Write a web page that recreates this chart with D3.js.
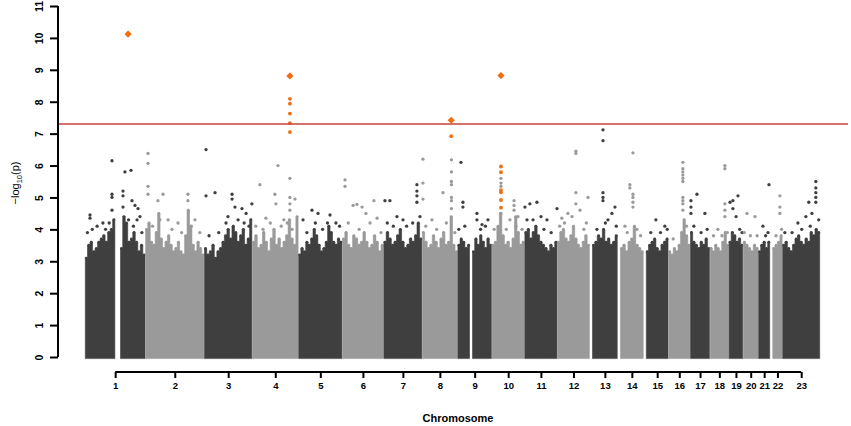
<!DOCTYPE html>
<html><head><meta charset="utf-8">
<script src="https://cdn.jsdelivr.net/npm/d3@7"></script>
<style>html,body{margin:0;padding:0;background:#fff;} svg{display:block;font-family:"Liberation Sans",Arial,sans-serif;}</style>
</head><body>
<svg id="chart" width="851" height="426"></svg>
<script>
// ---- data ----
const chrNames = ['1','2','3','4','5','6','7','8','9','10','11','12','13','14','15','16','17','18','19','20','21','22','23'];
const chrLengths = [249.25,243.2,198.0,191.15,180.9,171.1,159.1,146.4,141.2,135.5,135.0,133.9,115.2,107.3,102.5,90.4,81.2,78.1,59.1,63.0,48.1,51.3,155.3];
// upper envelope of the dense cloud, sampled evenly along each chromosome (0 = no SNPs)
const profiles = [
  [3.1,3.5,3.6,3.3,3.4,3.6,3.7,3.8,3.6,3.9,4.0,4.3,0,0,3.4,4.4,4.2,3.6,3.7,3.9,3.6,3.3,3.5,3.2],
  [4.0,4.2,3.6,3.5,3.9,4.5,3.7,3.4,3.6,3.8,3.5,3.3,3.4,3.6,3.3,3.2,3.8,4.6,4.1,3.5,3.3,3.6,3.4,3.2],
  [3.4,3.2,3.3,3.5,3.1,3.3,3.4,3.6,3.8,4.0,3.7,4.1,3.9,3.6,3.8,4.0,3.5,3.7,4.3],
  [3.6,3.8,3.4,3.5,3.9,3.6,3.3,3.7,4.0,3.5,3.7,3.4,3.6,3.8,4.3,3.7,3.5,4.4],
  [3.2,3.4,3.3,3.6,3.5,3.7,4.0,3.8,3.5,3.3,3.4,3.6,4.1,3.9,3.6,3.5,3.7,3.6],
  [3.7,3.9,3.5,3.4,3.8,3.7,3.5,3.6,3.9,3.6,3.4,3.5,3.8,3.6,3.3,3.5],
  [3.6,3.9,3.7,3.5,3.6,3.8,4.0,3.6,3.4,3.5,3.7,3.6,3.8,4.2,3.7],
  [3.9,3.6,3.4,3.5,3.8,3.6,3.4,3.7,3.9,3.5,3.6,4.4,3.5,3.3],
  [3.5,3.7,3.6,3.4,3.5,0,3.3,3.7,3.5,3.8,3.6,3.4,3.7,3.5],
  [3.5,3.6,4.1,4.5,3.8,3.5,3.6,3.4,3.7,4.4,3.9,3.5,3.6],
  [3.9,4.0,3.7,3.9,4.1,3.8,3.6,3.5,3.4,3.3,3.5,3.4,3.6],
  [3.6,3.9,4.0,3.7,3.6,3.8,4.1,3.7,3.5,3.4,3.6,3.8,3.5],
  [0,3.5,3.6,3.8,3.7,4.0,3.6,3.7,3.5,3.6,3.8],
  [0,3.4,3.5,3.3,3.6,3.7,4.1,3.5,3.4,3.3],
  [0,3.3,3.5,3.6,3.7,3.4,3.3,3.5,3.6,3.7],
  [3.3,3.2,3.4,3.3,3.5,3.9,4.3,3.8,3.5],
  [3.9,3.6,3.5,3.4,3.6,3.5,3.7,3.4],
  [3.4,3.3,3.5,3.4,3.3,3.6,3.9,3.5],
  [3.6,3.9,3.8,3.6,3.7,3.5],
  [3.6,3.5,3.4,3.3,3.5,3.4],
  [3.3,3.5,3.6,3.4,3.6],
  [0,3.4,3.5,3.6,3.8],
  [3.5,3.6,3.4,3.3,3.5,3.7,3.8,3.6,3.5,3.7,3.6,3.9,3.8,4.0,3.9]
];
// loose SNPs at the ragged top of the cloud: [chromosome, position (Mb), -log10(p)]
const fringePoints = [
  [1,10,3.9],[1,30,4.0],[1,50,4.1],[1,85,4.0],[1,100,4.2],[1,180,4.3],[1,200,4.1],[1,235,3.9],
  [2,30,4.1],[2,60,4.3],[2,110,4.0],[2,150,3.9],[2,190,4.1],[2,225,3.9],
  [3,20,3.8],[3,60,3.9],[3,90,4.2],[3,140,4.3],[3,165,4.2],[3,185,4.1],
  [4,15,4.1],[4,45,4.0],[4,75,4.2],[4,120,4.1],[4,145,4.2],[4,165,4.0],
  [5,35,3.9],[5,70,4.2],[5,100,4.0],[5,120,4.2],[5,170,4.1],
  [6,25,4.2],[6,70,4.0],[6,115,4.2],[6,160,3.9],
  [7,15,4.2],[7,40,4.1],[7,95,4.1],[7,120,4.2],
  [8,15,4.1],[8,60,4.0],[8,100,4.2],[8,135,3.9],
  [9,5,4.0],[9,30,4.1],[9,95,4.0],[9,115,4.1],
  [10,10,4.0],[10,60,4.0],[10,100,4.1],[10,125,4.0],
  [11,10,4.3],[11,35,4.3],[11,80,4.0],[11,110,3.9],
  [12,10,4.1],[12,30,4.2],[12,110,4.0],[12,120,4.2],
  [13,30,4.0],[13,65,4.2],[13,110,4.1],
  [14,40,3.9],[14,80,4.0],[14,95,3.8],
  [15,30,3.9],[15,70,3.9],[15,98,4.0],
  [16,20,3.7],[16,75,4.1],
  [17,15,4.1],[17,45,3.9],[17,70,4.0],
  [18,15,3.8],[18,50,3.8],[18,72,3.9],
  [19,45,4.0],[19,55,3.9],
  [20,5,3.9],[20,30,3.8],[20,58,3.8],
  [21,30,3.8],[21,40,3.9],
  [22,25,3.8],[22,48,4.0],
  [23,10,3.9],[23,40,3.9],[23,80,4.0],[23,115,4.1],[23,150,4.3]
];
// individual SNPs above the cloud: [chromosome, position (Mb), -log10(p)]
const topPoints = [
  [1,20.7,4.45],[1,20.7,4.35],[1,74,4.2],[1,111.5,6.15],[1,111.5,5.1],[1,111.5,5.0],[1,111.5,4.6],
  [1,157,5.2],[1,157,5.05],[1,157,4.7],[1,165,5.8],[1,190,5.85],[1,194,4.9],[1,206.5,4.75],[1,219,4.65],[1,227,4.4],[1,215,4.3],
  [2,11,6.38],[2,11,6.07],[2,11,5.35],[2,11,5.1],[2,52,4.9],[2,73,5.1],[2,94,4.3],[2,176,5.1],[2,176,4.9],[2,205,4.3],[2,135,4.2],
  [3,7.4,6.5],[3,7.4,5.05],[3,44.6,5.15],[3,115,5.1],[3,115,4.95],[3,127,4.7],[3,156,4.65],[3,197,4.8],[3,173,4.5],[3,98,4.4],
  [4,32,5.4],[4,57,4.35],[4,94,5.1],[4,98,4.8],[4,106.6,6.0],[4,156,5.6],[4,156,5.0],[4,156,4.8],[4,156,4.6],[4,131,4.3],[4,177,4.95],
  [5,19,4.3],[5,56,4.6],[5,81,4.5],[5,130.5,4.45],[5,155,4.2],
  [6,11.6,5.55],[6,11.6,5.35],[6,45,4.75],[6,61,4.78],[6,82,4.7],[6,131,4.9],[6,144,4.35],[6,98,4.5],
  [7,5.4,4.9],[7,26,4.9],[7,55,4.4],[7,80,4.3],[7,137.5,5.4],[7,137.5,5.2],[7,137.5,5.05],[7,137.5,4.85],[7,150,4.4],
  [8,3.3,6.2],[8,3.3,5.45],[8,3.3,4.95],[8,40.5,4.3],[8,86,5.15],[8,121,6.18],[8,121,5.8],[8,121,5.5],[8,121,5.4],[8,121,5.0],[8,121,4.9],[8,121,4.65],
  [9,14,6.1],[9,22,4.85],[9,22,4.7],[9,80,4.5],[9,80,4.3],[9,101,4.15],[9,125.5,4.3],
  [10,38,5.6],[10,38,5.45],[10,38,5.35],[10,38,4.5],[10,92,4.9],[10,92,4.75],[10,92,4.6],[10,75,4.3],[10,108,4.4],
  [11,1.6,4.7],[11,22,4.8],[11,51,4.85],[11,68,4.4],[11,92.5,4.3],[11,134,4.65],
  [12,77,6.45],[12,77,6.38],[12,77,5.15],[12,77,4.8],[12,127,5.0],[12,44,4.5],[12,19,4.35],[12,61,4.4],[12,94,4.6],
  [13,55,7.12],[13,55,6.78],[13,55,5.15],[13,55,5.0],[13,55,4.9],[13,104.5,4.7],[13,75.6,4.3],[13,92,4.5],
  [14,63.6,6.4],[14,63.6,5.1],[14,63.6,5.0],[14,63.6,4.85],[14,63.6,4.7],[14,51,5.4],[14,51,5.3],[14,30.6,4.1],
  [15,51,4.3],[15,88,4.1],
  [16,60,6.1],[16,60,5.9],[16,60,5.8],[16,60,5.7],[16,60,5.6],[16,60,5.5],[16,60,5.0],[16,60,4.9],[16,60,4.8],[16,60,4.6],
  [17,27.7,5.1],[17,3,4.9],[17,3,4.7],[17,3,4.5],[17,60.7,4.5],
  [18,62,6.0],[18,62,5.9],[18,62,4.8],[18,62,4.6],[18,62,4.4],[18,33,4.0],
  [19,5,4.85],[19,17,4.9],[19,17,4.65],[19,38,5.05],[19,30,4.4],
  [20,16,4.5],[20,49,4.4],
  [21,44,5.4],[21,19,4.1],
  [22,41,5.05],[22,41,4.7],[22,41,4.5],
  [23,138,5.5],[23,138,5.3],[23,138,5.15],[23,138,5.0],[23,138,4.85],[23,109,4.85],[23,64,4.2],[23,97,4.4],[23,122,4.5]
];
// highlighted SNPs (orange)
const hitPoints = [
  [4,156,8.09],[4,156,7.94],[4,156,7.63],[4,156,7.33],[4,156,7.05],
  [8,120,6.92],
  [10,38,5.97],[10,38,5.79],[10,38,5.23],[10,38,5.16],[10,38,4.92],[10,38,4.68]
];
// lead SNPs (orange diamonds)
const leadSnps = [[1,178,10.12],[4,156,8.81],[8,120,7.42],[10,38,8.82]];
const yTicks = [0,1,2,3,4,5,6,7,8,9,10,11];
const sigLevel = 7.3;

// ---- drawing ----
const dark = '#3f3f3f', light = '#9a9a9a', orange = '#f06e10';
const svg = d3.select('#chart');
const offsets = [0, ...d3.cumsum(chrLengths)];
const total = offsets[offsets.length-1];
const x = d3.scaleLinear().domain([0,total]).range([85,820]);
const y = d3.scaleLinear().domain([0,11]).range([357,6]);
const col = c => (c % 2 === 1 ? dark : light);
const gx = (c,pos) => x(offsets[c-1] + pos);

const area = d3.area().x(d => d[0]).y0(y(0) + 1.6).y1(d => y(d[1])).curve(d3.curveStepAfter);
const body = svg.append('g');
profiles.forEach((prof, ci) => {
  const c = ci + 1, n = prof.length, step = chrLengths[ci] / n;
  const runs = [];
  let cur = null;
  prof.forEach((h, i) => {
    if (h > 0) { if (!cur) { cur = []; runs.push(cur); } cur.push(i); }
    else cur = null;
  });
  runs.forEach(run => {
    const pts = run.map(i => [gx(c, i*step), prof[i]]);
    const lastI = run[run.length-1];
    pts.push([gx(c, (lastI+1)*step), prof[lastI]]);
    pts[0][0] += 0.3; pts[pts.length-1][0] -= 0.3;
    body.append('path').attr('d', area(pts)).attr('fill', col(c))
      .attr('stroke', col(c)).attr('stroke-width', 0.6).attr('stroke-linejoin', 'round');
    run.forEach(i => {
      body.append('circle').attr('cx', gx(c, (i+0.5)*step)).attr('cy', y(prof[i])).attr('r', 1.45).attr('fill', col(c));
    });
  });
});

svg.append('g').selectAll('circle').data(fringePoints.concat(topPoints)).join('circle')
  .attr('cx', d => gx(d[0], d[1])).attr('cy', d => y(d[2])).attr('r', 1.65)
  .attr('fill', d => col(d[0]));

svg.append('g').selectAll('circle').data(hitPoints).join('circle')
  .attr('cx', d => gx(d[0], d[1])).attr('cy', d => y(d[2])).attr('r', 1.9)
  .attr('fill', orange);

const diamond = d3.symbol().type(d3.symbolSquare).size(26);
svg.append('g').selectAll('path').data(leadSnps).join('path')
  .attr('d', diamond)
  .attr('transform', d => `translate(${gx(d[0], d[1])},${y(d[2])}) rotate(45)`)
  .attr('fill', orange);

// significance line
svg.append('line').attr('x1', 59).attr('x2', 848).attr('y1', y(sigLevel)).attr('y2', y(sigLevel))
  .attr('stroke', '#c8403c').attr('stroke-width', 1.4);

// y axis
const yAxis = svg.append('g').attr('transform', 'translate(58,0)')
  .call(d3.axisLeft(y).tickValues(yTicks).tickSize(8).tickFormat(d3.format('d')));
yAxis.select('.domain').attr('stroke', '#000').attr('stroke-width', 2).attr('d', `M0,${y(11)}V${y(0)}`);
yAxis.selectAll('.tick line').attr('stroke', '#000').attr('stroke-width', 2);
yAxis.selectAll('.tick text')
  .attr('x', 0).attr('y', 0).attr('dy', null)
  .attr('transform', 'translate(-15,0) rotate(-90)')
  .attr('text-anchor', 'middle').attr('fill', '#000')
  .style('font-size', '10.5px').style('font-weight', 'bold')
  .style('font-family', '"Liberation Sans",Arial,sans-serif');

// x axis ticks at the middle of each chromosome's SNP span
const tickPos = profiles.map((prof, ci) => {
  const n = prof.length, step = chrLengths[ci] / n;
  const first = prof.findIndex(v => v > 0);
  let last = n - 1; while (prof[last] === 0) last--;
  return offsets[ci] + (first * step + (last + 1) * step) / 2;
});
const xAxis = svg.append('g').attr('transform', 'translate(0,372)')
  .call(d3.axisBottom(x).tickValues(tickPos).tickSize(6).tickFormat((d, i) => chrNames[i]));
xAxis.select('.domain').attr('stroke', '#000').attr('stroke-width', 2)
  .attr('d', `M${x(tickPos[0])},0H${x(tickPos[tickPos.length-1])}`);
xAxis.selectAll('.tick line').attr('stroke', '#000').attr('stroke-width', 2);
xAxis.selectAll('.tick text').attr('y', 10).attr('dy', '0.71em').attr('fill', '#000')
  .style('font-size', '9.5px').style('font-weight', 'bold')
  .style('font-family', '"Liberation Sans",Arial,sans-serif');

// axis titles
svg.append('text').attr('x', 458).attr('y', 422).attr('text-anchor', 'middle')
  .style('font-size', '11px').style('font-weight', 'bold').text('Chromosome');
const yl = svg.append('text').attr('transform', 'translate(19,183) rotate(-90)')
  .attr('text-anchor', 'middle').style('font-size', '11px');
yl.append('tspan').text('\u2212log');
yl.append('tspan').attr('dy', 3).style('font-size', '7.5px').text('10');
yl.append('tspan').attr('dy', -3).text('(p)');
</script>
</body></html>
